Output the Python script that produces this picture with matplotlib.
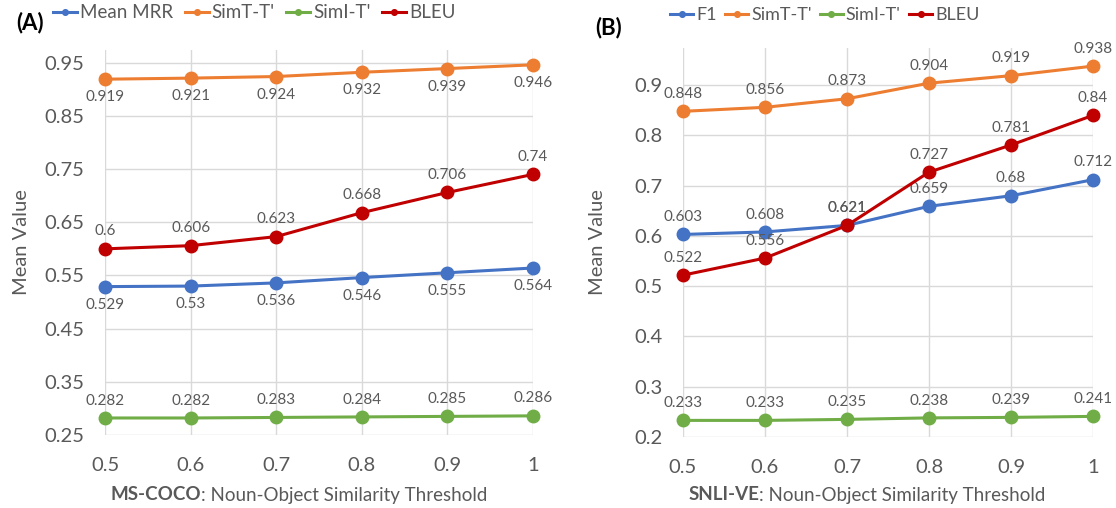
import matplotlib
matplotlib.use('Agg')
import matplotlib.pyplot as plt
from matplotlib.ticker import FixedLocator

plt.rcParams['font.family'] = ['Lato', 'DejaVu Sans']

# data
thresholds = [0.5, 0.6, 0.7, 0.8, 0.9, 1.0]
x_labels = ['0.5', '0.6', '0.7', '0.8', '0.9', '1']

coco_mrr = [0.529, 0.53, 0.536, 0.546, 0.555, 0.564]
coco_simt = [0.919, 0.921, 0.924, 0.932, 0.939, 0.946]
coco_simi = [0.282, 0.282, 0.283, 0.284, 0.285, 0.286]
coco_bleu = [0.6, 0.606, 0.623, 0.668, 0.706, 0.74]

snli_f1 = [0.603, 0.608, 0.621, 0.659, 0.68, 0.712]
snli_simt = [0.848, 0.856, 0.873, 0.904, 0.919, 0.938]
snli_simi = [0.233, 0.233, 0.235, 0.238, 0.239, 0.241]
snli_bleu = [0.522, 0.556, 0.621, 0.727, 0.781, 0.84]

coco_yticks = [0.25, 0.35, 0.45, 0.55, 0.65, 0.75, 0.85, 0.95]
snli_yticks = [0.2, 0.3, 0.4, 0.5, 0.6, 0.7, 0.8, 0.9]

BLUE = '#4472C4'
ORANGE = '#ED7D31'
GREEN = '#70AD47'
RED = '#C00000'
TXT = '#595959'
GRID = '#D9D9D9'

fig = plt.figure(figsize=(11.16, 5.08), dpi=100)
axA = fig.add_axes([0.0941, 0.1437, 0.3835, 0.758])
axB = fig.add_axes([0.612, 0.1398, 0.3674, 0.7657])


def fmt(v):
    s = ('%.3f' % v).rstrip('0').rstrip('.')
    return s


def draw_series(ax, ys, color, label, above):
    ax.plot(thresholds, ys, color=color, lw=2.2, marker='o', ms=9,
            clip_on=False, zorder=3, label=label)
    for x, y in zip(thresholds, ys):
        ax.annotate(fmt(y), (x, y), xytext=(0, 12.5 if above else -13),
                    textcoords='offset points', ha='center',
                    va='center', fontsize=11, color=TXT)


def style_axis(ax, yticks, ylim, ylabels, xlab):
    ax.set_xlim(0.5, 1.0)
    ax.set_ylim(*ylim)
    ax.set_xticks(thresholds)
    ax.set_xticklabels(x_labels)
    ax.yaxis.set_major_locator(FixedLocator(yticks))
    ax.set_yticklabels(ylabels)
    ax.grid(True, color=GRID, lw=1)
    ax.set_axisbelow(True)
    for s in ax.spines.values():
        s.set_visible(False)
    ax.tick_params(axis='y', length=0, labelsize=14.5, colors=TXT, pad=15)
    ax.tick_params(axis='x', length=0, labelsize=14.5, colors=TXT, pad=16)
    ax.set_ylabel('Mean Value', fontsize=14.5, color=TXT)
    ax.yaxis.set_label_coords(xlab, 0.5)


draw_series(axA, coco_mrr, BLUE, 'Mean MRR', False)
draw_series(axA, coco_simt, ORANGE, "SimT-T'", False)
draw_series(axA, coco_simi, GREEN, "SimI-T'", True)
draw_series(axA, coco_bleu, RED, 'BLEU', True)
style_axis(axA, coco_yticks, (0.25, 0.974), ['%.2f' % t for t in coco_yticks], -0.175)

draw_series(axB, snli_f1, BLUE, 'F1', True)
draw_series(axB, snli_simt, ORANGE, "SimT-T'", True)
draw_series(axB, snli_simi, GREEN, "SimI-T'", True)
draw_series(axB, snli_bleu, RED, 'BLEU', True)
style_axis(axB, snli_yticks, (0.2, 0.974), ['%g' % t for t in snli_yticks], -0.188)

fig.text(16 / 1116, 1 - 23 / 508, '(A)', fontsize=16, fontweight='bold', va='center')
fig.text(595 / 1116, 1 - 28 / 508, '(B)', fontsize=16, fontweight='bold', va='center')

# legends above each panel
for ax, left, ypx, fs, sp in [(axA, 53, 13, 13.5, 0.6), (axB, 670, 15, 13, 0.45)]:
    h, l = ax.get_legend_handles_labels()
    fig.legend(h, l, loc='center left', bbox_to_anchor=(left / 1116, 1 - ypx / 508),
               ncol=4, frameon=False, fontsize=fs, handlelength=1.3,
               handletextpad=0.15, columnspacing=sp, markerscale=0.45,
               labelcolor=TXT, borderpad=0, borderaxespad=0)

# x axis titles with bold dataset name
fig.canvas.draw()
renderer = fig.canvas.get_renderer()
for cx, name in [(299 / 1116, 'MS-COCO'), (867 / 1116, 'SNLI-VE')]:
    t1 = fig.text(0, 1 - 495 / 508, name, fontsize=13.5, fontweight='bold', color=TXT, va='center')
    t2 = fig.text(0, 1 - 495 / 508, ': Noun-Object Similarity Threshold', fontsize=13.5,
                  color=TXT, va='center')
    w1 = t1.get_window_extent(renderer).width / fig.bbox.width
    w2 = t2.get_window_extent(renderer).width / fig.bbox.width
    x0 = cx - (w1 + w2) / 2
    t1.set_x(x0)
    t2.set_x(x0 + w1)

fig.savefig('out.png', dpi=100)
